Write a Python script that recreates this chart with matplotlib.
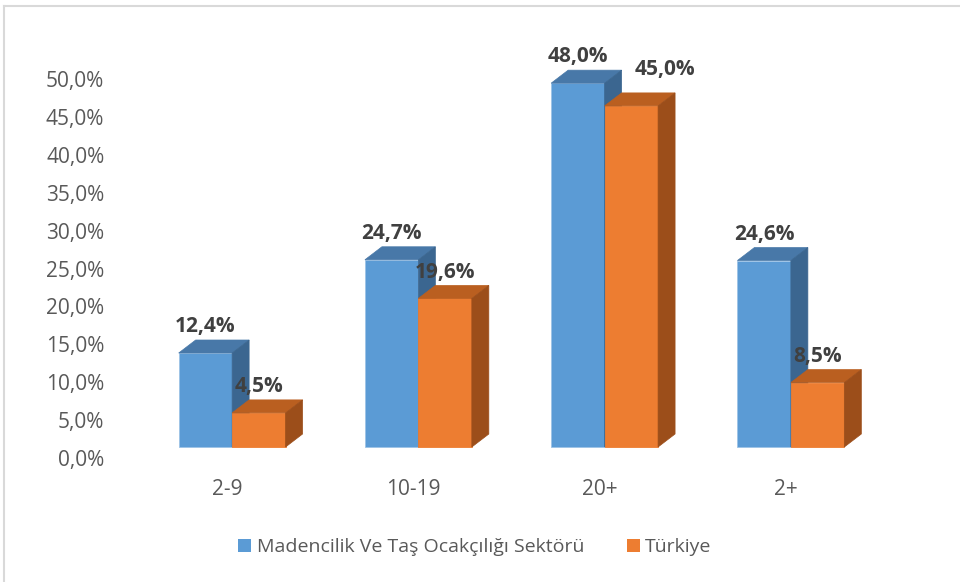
import matplotlib
matplotlib.use("Agg")
import matplotlib.pyplot as plt
from matplotlib.patches import Polygon, Patch
from matplotlib.lines import Line2D
from matplotlib.transforms import ScaledTranslation
import numpy as np

# --- datos ---
categorias = ["2-9", "10-19", "20+", "2+"]
sektor = [12.4, 24.7, 48.0, 24.6]
turkiye = [4.5, 19.6, 45.0, 8.5]
etiquetas_y = ["0,0%", "5,0%", "10,0%", "15,0%", "20,0%", "25,0%",
               "30,0%", "35,0%", "40,0%", "45,0%", "50,0%"]
series = ["Madencilik Ve Taş Ocakçılığı Sektörü", "Türkiye"]

# colores (frente, arriba, lado)
azul = ("#5B9BD5", "#4878A8", "#3B6690")
naranja = ("#ED7D31", "#BA5F20", "#9C4E1A")

plt.rcParams['font.family'] = ['Open Sans', 'DejaVu Sans']

W, H = 960, 582
fig = plt.figure(figsize=(W / 100, H / 100), dpi=100)
# ejes en píxeles: izquierda 139, derecha 884, base 447, arriba 40
ax = fig.add_axes([139 / W, (H - 447) / H, 745 / W, 407 / H])
ax.set_xlim(-0.5, 3.5)
ax.set_ylim(0, 407 / 7.58)
for s in ax.spines.values():
    s.set_visible(False)

ancho = 0.287      # ancho de barra (unidades de categoría)
dx = 17 / 186.3    # profundidad 3D en x
dy = 13 / 7.58     # profundidad 3D en y


def barra3d(x0, v, colores):
    x1 = x0 + ancho
    frente = Polygon([(x0, 0), (x1, 0), (x1, v), (x0, v)], closed=True,
                     facecolor=colores[0], edgecolor="#9DC3E6" if colores is azul else colores[0],
                     linewidth=0.6, clip_on=False, zorder=2)
    arriba = Polygon([(x0, v), (x1, v), (x1 + dx, v + dy), (x0 + dx, v + dy)],
                     closed=True, facecolor=colores[1], edgecolor=colores[1],
                     linewidth=0.5, clip_on=False, zorder=2)
    lado = Polygon([(x1, 0), (x1 + dx, dy), (x1 + dx, v + dy), (x1, v)],
                   closed=True, facecolor=colores[2], edgecolor=colores[2],
                   linewidth=0.5, clip_on=False, zorder=2)
    for p in (frente, arriba, lado):
        ax.add_patch(p)


def fmt(v):
    return f"{v:.1f}".replace(".", ",") + "%"


x = np.arange(len(categorias))
for i in range(len(categorias)):
    barra3d(x[i] - ancho, sektor[i], azul)
    barra3d(x[i], turkiye[i], naranja)

for i in range(len(categorias)):
    ax.annotate(fmt(sektor[i]), (x[i] - ancho / 2, sektor[i] + dy),
                xytext=(0, 2), textcoords="offset points", ha="center", va="bottom",
                fontsize=15, fontweight="bold", color="#404040", zorder=5)
    # Excel desplazó la etiqueta de 45,0% para no chocar con 48,0%
    off = (24, 9) if i == 2 else (0, 2)
    ax.annotate(fmt(turkiye[i]), (x[i] + ancho / 2, turkiye[i] + dy),
                xytext=off, textcoords="offset points", ha="center", va="bottom",
                fontsize=15, fontweight="bold", color="#404040", zorder=5)

ax.set_yticks(np.arange(0, 51, 5))
ax.set_yticklabels(etiquetas_y)
ax.set_xticks(x)
ax.set_xticklabels(categorias)
ax.tick_params(axis="y", length=0, pad=25, labelsize=15, labelcolor="#595959")
ax.tick_params(axis="x", length=0, pad=23, labelsize=15, labelcolor="#595959")
for lab in ax.get_yticklabels():
    lab.set_transform(lab.get_transform() + ScaledTranslation(0, -11 / 100, fig.dpi_scale_trans))
for lab in ax.get_xticklabels():
    lab.set_transform(lab.get_transform() + ScaledTranslation(-5 / 100, 0, fig.dpi_scale_trans))

handles = [Patch(facecolor=azul[0], edgecolor="none"),
           Patch(facecolor=naranja[0], edgecolor="none")]
fig.legend(handles, series, loc="center", bbox_to_anchor=(475 / W, (H - 547) / H),
           ncol=2, frameon=False, fontsize=14, labelcolor="#595959",
           handlelength=0.65, handleheight=0.65, handletextpad=0.3, columnspacing=2.2)

# marco del gráfico
fig.add_artist(Line2D([4 / W, 1], [(H - 6) / H, (H - 6) / H], color="#D9D9D9", linewidth=1.5))
fig.add_artist(Line2D([4 / W, 4 / W], [0, (H - 6) / H], color="#D9D9D9", linewidth=1.5))

fig.savefig("out.png", dpi=100)
